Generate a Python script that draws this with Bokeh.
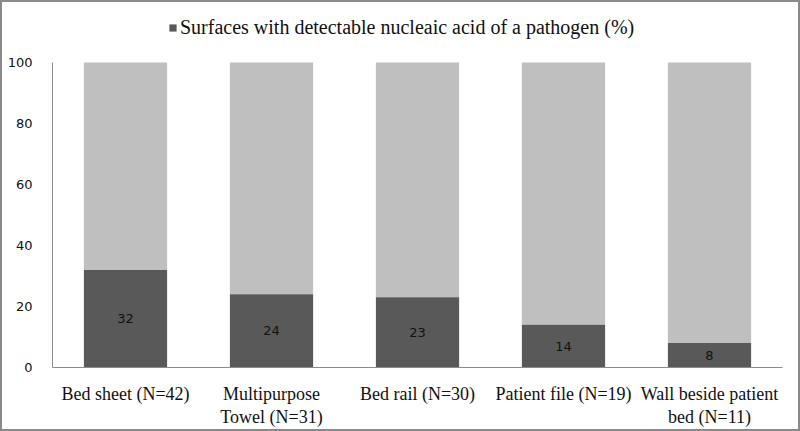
from bokeh.plotting import figure
from bokeh.models import ColumnDataSource, Range1d, Legend, LegendItem, FactorRange
from bokeh.embed import file_html
from bokeh.resources import INLINE

categories = ["Bed sheet (N=42)", "Multipurpose\nTowel (N=31)", "Bed rail (N=30)",
              "Patient file (N=19)", "Wall beside patient\nbed (N=11)"]
values = [32, 24, 23, 14, 8]
totals = [100, 100, 100, 100, 100]
y_ticks = [0, 20, 40, 60, 80, 100]
legend_label = "Surfaces with detectable nucleaic acid of a pathogen (%)"

DARK = "#595959"
LIGHT = "#bfbfbf"
SERIF = "Liberation Serif"

src = ColumnDataSource(dict(
    cat=categories,
    val=values,
    tot=totals,
    mid=[v / 2 for v in values],
    lab=[str(v) for v in values],
))

p = figure(frame_width=730, frame_height=359, output_backend="svg", toolbar_location=None,
           x_range=FactorRange(factors=categories, range_padding=0),
           y_range=Range1d(0, 100 * 359 / 305),
           min_border_left=52, min_border_right=18, min_border_top=8, min_border_bottom=64)
p.styles = {"box-shadow": "inset 0 0 0 2px #8a8a8a"}

p.vbar(x="cat", bottom="val", top="tot", width=0.57, source=src,
       fill_color=LIGHT, line_color=None)
dark = p.vbar(x="cat", top="val", width=0.57, source=src,
              fill_color=DARK, line_color=None)
p.text(x="cat", y="mid", text="lab", source=src, text_align="center",
       text_baseline="middle", text_font_size="13px", text_color="#111111",
       text_font={"value": "DejaVu Sans"})

p.outline_line_color = None
p.grid.visible = False
p.background_fill_color = "white"
p.border_fill_alpha = 0

p.yaxis.ticker = y_ticks
p.yaxis.bounds = (0, 100)
p.yaxis.major_tick_line_color = None
p.yaxis.minor_tick_line_color = None
p.yaxis.axis_line_color = "#8c8c8c"
p.yaxis.major_label_text_font = "DejaVu Sans"
p.yaxis.major_label_text_font_size = "13px"
p.yaxis.major_label_text_color = "#111111"
p.yaxis.major_label_standoff = 14

p.xaxis.major_tick_line_color = None
p.xaxis.axis_line_color = "#8c8c8c"
p.xaxis.major_label_text_font = SERIF
p.xaxis.major_label_text_font_size = "18px"
p.xaxis.major_label_text_color = "#111111"
p.xaxis.major_label_standoff = 10
p.xaxis.major_label_text_line_height = 1.15

legend = Legend(items=[LegendItem(label=legend_label, renderers=[dark])],
                location=(116, 328), orientation="horizontal",
                border_line_color=None, background_fill_alpha=0,
                padding=0, margin=0, spacing=0,
                glyph_width=9, glyph_height=9, label_standoff=3,
                label_text_font=SERIF, label_text_font_size="20px",
                label_text_color="#111111")
p.add_layout(legend, "center")

open("out.html", "w").write(file_html(p, INLINE))
